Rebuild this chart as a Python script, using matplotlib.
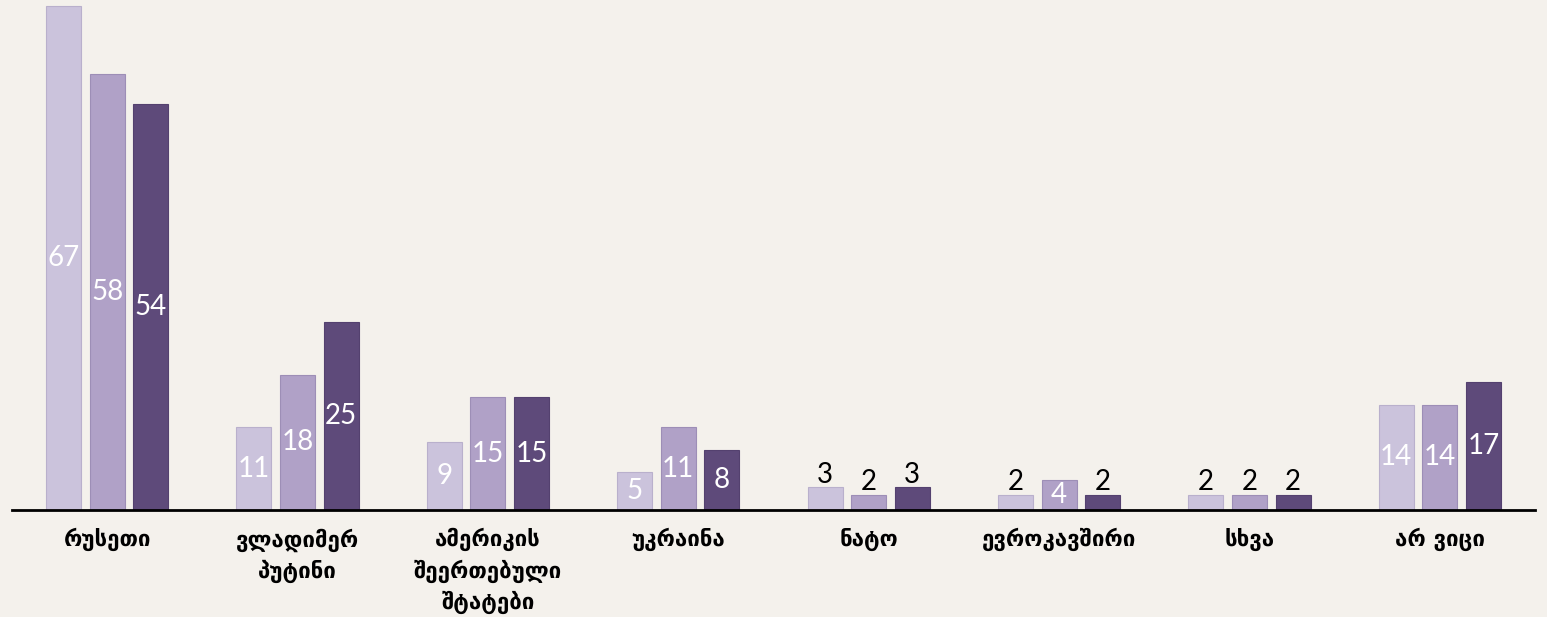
import numpy as np
import matplotlib.pyplot as plt

categories = ["რუსეთი", "ვლადიმერ\nპუტინი", "ამერიკის\nშეერთებული\nშტატები",
              "უკრაინა", "ნატო", "ევროკავშირი", "სხვა", "არ ვიცი"]
series_1 = [67, 11, 9, 5, 3, 2, 2, 14]
series_2 = [58, 18, 15, 11, 2, 4, 2, 14]
series_3 = [54, 25, 15, 8, 3, 2, 2, 17]

colors = ["#CBC3DC", "#B0A1C7", "#5E4A7A"]
edges = ["#B9B0CC", "#9D8EB6", "#54416F"]
bg = "#F4F1EC"

fig = plt.figure(figsize=(15.47, 6.17), dpi=100, facecolor=bg)
ax = fig.add_axes([12 / 1547, 107 / 617, 1523 / 1547, 510 / 617])
ax.set_facecolor(bg)

x = np.arange(len(categories))
width = 0.184
step = 0.229

for i, vals in enumerate([series_1, series_2, series_3]):
    xs = x + (i - 1) * step
    ax.bar(xs, vals, width, color=colors[i], edgecolor=edges[i], linewidth=0.8, zorder=2)
    for xi, v in zip(xs, vals):
        if v <= 3:
            ax.text(xi, v + 1.7, str(v), ha="center", va="center",
                    fontsize=20, color="black", family="Lato", zorder=3)
        else:
            ax.text(xi, v / 2, str(v), ha="center", va="center",
                    fontsize=20, color="white", family="Lato", zorder=3)

ax.set_xlim(-0.5, len(categories) - 0.5)
ax.set_ylim(0, 67.8)
ax.set_yticks([])
ax.set_xticks(x)
ax.set_xticklabels(categories, fontsize=16, fontweight="bold", family="DejaVu Sans",
                   linespacing=1.45)
ax.tick_params(axis="x", length=0, pad=13)
for side in ["top", "left", "right"]:
    ax.spines[side].set_visible(False)
ax.spines["bottom"].set_linewidth(2)
ax.spines["bottom"].set_color("black")

fig.savefig("out.png", dpi=100, facecolor=bg)
